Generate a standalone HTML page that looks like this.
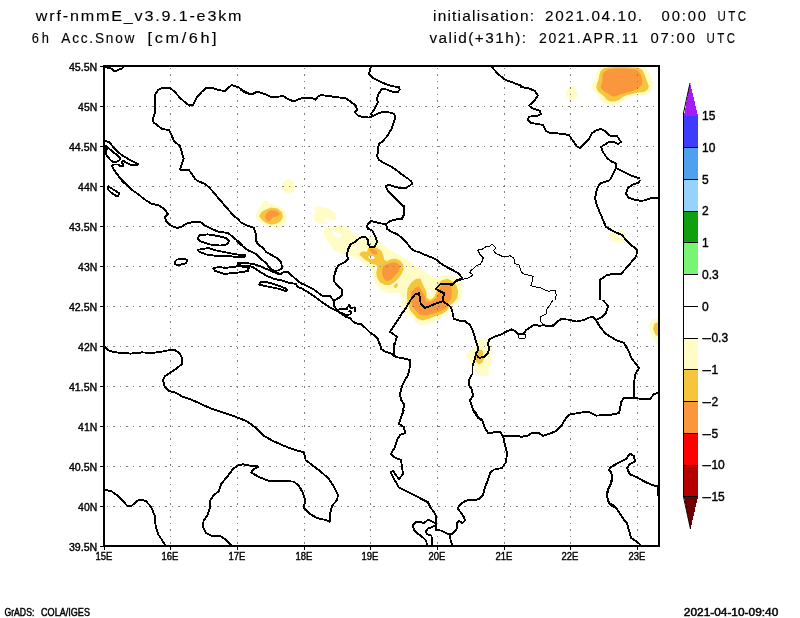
<!DOCTYPE html>
<html><head><meta charset="utf-8"><title>wrf-nmmE 6h Acc.Snow</title>
<style>
html,body{margin:0;padding:0;background:#fff;}
svg{display:block}
text{font-family:"Liberation Sans",sans-serif;fill:#000}
.t{font-size:13.8px;stroke:#000;stroke-width:0.12}
.ax{font-size:11px;stroke:#000;stroke-width:0.4}
.cb{font-size:12px;stroke:#000;stroke-width:0.4}
.sm{font-size:10.3px;stroke:#000;stroke-width:0.45}
.b{fill:none;stroke:#000;stroke-width:1.9;stroke-linejoin:round;stroke-linecap:butt;shape-rendering:crispEdges}
.g{stroke:#808080;stroke-width:1;stroke-dasharray:2 4.5 1 5.5;stroke-dashoffset:5;fill:none;shape-rendering:crispEdges}
</style></head><body>
<svg width="800" height="618" viewBox="0 0 800 618">
<rect width="800" height="618" fill="#fff"/>

<text class="t" transform="translate(35.8,21.2) scale(1.170,1)" textLength="175.8" lengthAdjust="spacing">wrf-nmmE_v3.9.1-e3km</text>
<text class="t" transform="translate(31.8,42.5) scale(0.934,1)" textLength="18.4" lengthAdjust="spacing">6h</text>
<text class="t" transform="translate(61.3,42.5) scale(0.994,1)" textLength="73.6" lengthAdjust="spacing">Acc.Snow</text>
<text class="t" transform="translate(147.6,42.5) scale(1.180,1)" textLength="58.5" lengthAdjust="spacing">[cm/6h]</text>
<text class="t" transform="translate(433,21.2) scale(1.120,1)" textLength="90.2" lengthAdjust="spacing">initialisation:</text>
<text class="t" transform="translate(545,21.2) scale(1.109,1)" textLength="87.5" lengthAdjust="spacing">2021.04.10.</text>
<text class="t" transform="translate(661.6,21.2) scale(1.072,1)" textLength="41.4" lengthAdjust="spacing">00:00</text>
<text class="t" transform="translate(717.6,21.2) scale(0.834,1)" textLength="34.0" lengthAdjust="spacing">UTC</text>
<text class="t" transform="translate(429.4,42.5) scale(1.111,1)" textLength="87.0" lengthAdjust="spacing">valid(+31h):</text>
<text class="t" transform="translate(539,42.5) scale(1.018,1)" textLength="97.3" lengthAdjust="spacing">2021.APR.11</text>
<text class="t" transform="translate(650.4,42.5) scale(1.076,1)" textLength="41.4" lengthAdjust="spacing">07:00</text>
<text class="t" transform="translate(706.6,42.5) scale(0.834,1)" textLength="34.0" lengthAdjust="spacing">UTC</text>
<g id="map" clip-path="url(#clip)">
<path d="M600.2,67.0 L596.9,71.2 L595.8,76.9 L593.5,81.4 L591.2,85.3 L592.4,89.2 L595.2,92.6 L598.0,94.9 L599.7,98.8 L602.5,102.2 L607.0,104.4 L612.6,105.0 L618.2,103.9 L622.8,100.5 L627.2,97.7 L632.9,96.0 L638.5,95.4 L645.2,95.1 L649.8,93.2 L652.6,88.1 L653.1,82.5 L651.4,76.9 L648.6,71.2 L645.2,67.0Z" fill="#fffcc6"/>
<path d="M604.2,67.9 L600.8,70.7 L599.4,74.6 L598.6,79.7 L596.9,83.6 L596.3,88.1 L598.0,91.5 L600.8,93.8 L604.2,96.6 L607.0,99.9 L610.4,101.6 L614.9,101.6 L618.8,99.9 L622.8,97.1 L627.2,94.9 L632.9,93.8 L638.5,92.6 L644.1,92.1 L647.5,89.8 L648.9,86.4 L647.5,82.5 L645.8,78.0 L644.1,73.5 L642.4,70.1 L638.5,67.7 L625.0,67.0 L613.8,67.0Z" fill="#f5c63c"/>
<path d="M608.7,69.2 L604.8,71.2 L602.5,75.2 L602.5,80.2 L601.4,84.2 L600.8,88.1 L604.2,91.5 L608.1,93.8 L612.6,96.6 L616.0,96.2 L620.5,94.3 L625.0,93.2 L629.5,92.1 L634.0,90.4 L638.5,88.1 L641.9,84.8 L642.4,80.8 L641.3,75.8 L639.1,71.8 L635.1,69.2 L627.2,68.4 L617.1,68.4Z" fill="#fa963c"/>
<path d="M572.0,85.0 L576.0,89.0 L578.0,94.0 L576.0,99.0 L571.0,101.0 L567.0,98.0 L566.0,93.0 L568.0,88.0Z" fill="#fffcc6"/>
<path d="M609.0,235.6 L612.4,231.6 L619.0,229.2 L624.4,231.2 L626.6,237.0 L624.4,241.4 L618.0,243.0 L611.6,240.6Z" fill="#fffcc6"/>
<path d="M660.0,317.0 L652.0,319.0 L648.0,326.0 L651.0,335.0 L656.0,343.0 L660.0,345.0Z" fill="#fffcc6"/>
<path d="M660.0,322.0 L654.4,323.6 L653.0,329.0 L655.6,335.0 L660.0,337.0Z" fill="#f5c63c"/>
<path d="M282.5,183.1 L285.6,179.8 L289.4,179.0 L293.1,181.2 L295.0,185.6 L294.4,190.6 L291.2,193.5 L287.5,193.8 L283.8,191.2 L281.9,187.5Z" fill="#fffcc6"/>
<path d="M265.6,200.0 L269.4,203.8 L276.2,205.6 L281.9,207.5 L285.6,211.9 L286.9,217.5 L285.6,223.1 L282.5,226.9 L278.8,228.8 L273.8,226.9 L267.5,225.6 L261.9,223.1 L257.5,220.0 L255.2,216.2 L256.9,211.2 L260.0,206.9 L262.5,203.1Z" fill="#fffcc6"/>
<path d="M271.2,207.5 L277.5,208.5 L281.9,211.9 L283.1,216.9 L280.6,221.2 L276.2,223.8 L271.2,224.8 L266.2,223.1 L261.9,220.0 L259.0,216.2 L261.2,212.5 L265.6,209.4Z" fill="#f5c63c"/>
<path d="M271.2,210.2 L276.2,211.0 L280.0,213.8 L277.5,216.2 L273.1,217.2 L270.6,219.4 L270.0,221.5 L266.9,220.6 L265.0,217.5 L266.2,213.8 L268.8,211.2Z" fill="#fa963c"/>
<path d="M313.1,207.5 L317.5,206.2 L323.8,206.9 L330.0,209.4 L335.0,213.1 L336.9,216.9 L335.6,220.0 L330.0,220.6 L327.5,223.1 L323.1,224.4 L317.5,223.1 L313.8,220.0 L313.1,216.2 L315.0,213.1 L316.2,210.6Z" fill="#fffcc6"/>
<path d="M323.8,219.4 L326.2,217.2 L329.4,218.1 L329.8,220.0 L326.9,221.9 L324.4,221.5Z" fill="#ffffff"/>
<path d="M323.1,231.2 L327.5,226.9 L336.2,225.0 L345.0,226.2 L350.6,230.0 L353.8,234.4 L357.5,236.2 L362.5,236.2 L370.0,237.5 L375.0,237.5 L378.8,241.2 L385.0,246.2 L392.5,251.2 L401.2,256.2 L410.0,261.2 L417.5,267.5 L425.0,271.9 L432.5,276.2 L437.5,277.5 L442.5,275.6 L450.0,275.6 L457.5,277.5 L461.2,283.8 L462.5,290.0 L461.2,297.5 L457.5,302.5 L452.5,305.0 L450.0,310.0 L445.0,315.0 L437.5,320.0 L431.2,323.1 L422.5,325.0 L416.2,323.1 L412.5,317.5 L406.2,313.8 L403.0,310.0 L402.0,305.0 L402.5,297.5 L398.8,292.5 L392.5,293.1 L386.2,292.5 L380.0,290.0 L376.2,285.0 L373.8,280.0 L373.1,273.8 L371.2,267.5 L366.2,264.4 L360.0,260.6 L353.8,256.9 L347.5,254.4 L340.0,253.1 L337.5,252.5 L332.5,248.8 L329.4,243.8 L325.0,237.5Z" fill="#fffcc6"/>
<path d="M331.9,230.6 L334.4,230.0 L336.2,232.5 L340.6,233.8 L341.9,235.6 L338.8,237.5 L336.2,236.9 L333.1,233.8Z" fill="#ffffff"/>
<path d="M351.2,247.2 L353.8,246.2 L356.9,247.2 L356.2,248.8 L353.1,249.0Z" fill="#ffffff"/>
<path d="M360.6,252.5 L363.1,251.2 L366.9,251.9 L368.1,248.1 L371.2,246.2 L376.2,247.5 L381.2,250.6 L383.1,255.0 L384.4,260.0 L386.9,261.2 L390.0,259.4 L395.0,258.5 L400.0,260.6 L403.1,264.4 L403.8,268.8 L401.9,273.8 L398.8,278.1 L395.0,281.9 L390.0,285.0 L385.0,285.0 L380.0,282.5 L376.9,277.5 L376.2,272.5 L377.5,267.5 L376.2,265.0 L371.2,263.5 L366.2,260.6 L361.9,256.9 L359.4,254.4Z" fill="#f5c63c"/>
<path d="M370.0,249.4 L373.1,248.8 L376.9,251.2 L377.5,253.8 L374.4,254.4 L371.2,252.5Z" fill="#fa963c"/>
<path d="M383.1,266.2 L387.5,263.8 L393.8,262.2 L398.1,263.5 L400.0,266.9 L398.8,271.2 L395.0,275.6 L391.2,279.4 L386.9,281.2 L383.8,278.8 L382.2,274.4 L382.2,270.0Z" fill="#fa963c"/>
<path d="M368.1,256.5 L372.5,256.0 L375.0,257.2 L373.8,259.0 L369.4,258.8Z" fill="#ffffff"/>
<path d="M393.8,285.6 L396.9,283.1 L398.1,285.0 L396.2,288.1 L393.8,287.5Z" fill="#f5c63c"/>
<path d="M407.5,288.8 L411.2,282.5 L416.2,278.8 L420.6,278.8 L422.5,283.8 L426.2,291.2 L426.9,297.5 L430.0,300.0 L433.8,297.5 L436.2,292.5 L437.5,285.0 L441.2,280.6 L447.5,278.8 L452.5,281.2 L456.2,285.0 L458.1,291.2 L457.5,297.5 L453.8,302.5 L450.0,305.6 L447.5,310.0 L442.5,313.8 L435.0,316.2 L428.8,318.8 L422.5,320.6 L417.5,318.8 L413.8,314.4 L410.0,310.0 L407.5,302.5 L406.9,295.0Z" fill="#f5c63c"/>
<path d="M411.2,292.5 L415.0,288.1 L418.8,286.2 L421.2,290.0 L425.0,296.2 L426.2,301.2 L430.6,301.9 L436.2,298.1 L438.8,292.5 L440.0,286.9 L443.8,283.1 L448.8,283.1 L451.2,286.9 L451.9,292.5 L451.2,298.8 L448.1,303.1 L446.2,308.1 L440.0,311.2 L432.5,313.8 L425.0,315.6 L420.0,315.0 L416.2,311.2 L412.5,306.2 L410.6,298.8Z" fill="#fa963c"/>
<path d="M428.5,290.0 L431.0,290.6 L431.2,294.8 L429.0,294.0Z" fill="#ffffff"/>
<path d="M476.2,340.0 L486.2,340.0 L491.2,343.8 L491.9,351.2 L491.2,360.0 L490.0,366.2 L488.1,371.2 L489.4,374.4 L486.2,376.2 L480.0,375.6 L475.0,371.2 L472.5,365.0 L468.1,360.0 L466.2,356.2 L468.8,351.2 L473.8,348.1 L476.2,345.0Z" fill="#fffcc6"/>
<path d="M478.8,350.0 L481.9,349.4 L483.1,353.1 L483.8,359.4 L481.9,363.1 L478.8,364.4 L475.6,361.2 L475.6,356.2 L477.5,352.5Z" fill="#f5c63c"/>
<line class="g" x1="170.5" y1="66" x2="170.5" y2="546"/>
<line class="g" x1="237.5" y1="66" x2="237.5" y2="546"/>
<line class="g" x1="304.5" y1="66" x2="304.5" y2="546"/>
<line class="g" x1="370.5" y1="66" x2="370.5" y2="546"/>
<line class="g" x1="437.5" y1="66" x2="437.5" y2="546"/>
<line class="g" x1="504.5" y1="66" x2="504.5" y2="546"/>
<line class="g" x1="570.5" y1="66" x2="570.5" y2="546"/>
<line class="g" x1="637.5" y1="66" x2="637.5" y2="546"/>
<line class="g" x1="105" y1="106.5" x2="659" y2="106.5"/>
<line class="g" x1="105" y1="146.5" x2="659" y2="146.5"/>
<line class="g" x1="105" y1="186.5" x2="659" y2="186.5"/>
<line class="g" x1="105" y1="226.5" x2="659" y2="226.5"/>
<line class="g" x1="105" y1="266.5" x2="659" y2="266.5"/>
<line class="g" x1="105" y1="306.5" x2="659" y2="306.5"/>
<line class="g" x1="105" y1="346.5" x2="659" y2="346.5"/>
<line class="g" x1="105" y1="386.5" x2="659" y2="386.5"/>
<line class="g" x1="105" y1="426.5" x2="659" y2="426.5"/>
<line class="g" x1="105" y1="466.5" x2="659" y2="466.5"/>
<line class="g" x1="105" y1="506.5" x2="659" y2="506.5"/>
<path class="b" d="M196.0,180.0 L189.0,170.0 L180.0,169.6 L183.6,158.4 L180.0,146.0 L174.4,141.6 L169.0,130.0 L162.0,129.0 L153.6,122.4 L153.0,119.0 L155.0,113.0 L155.0,95.0 L158.0,90.0 L162.4,88.0 L170.0,88.0 L175.0,92.0 L180.0,98.0 L186.0,103.0 L189.6,105.6 L193.0,105.0 L197.0,97.0 L202.0,91.6 L206.0,88.0 L212.0,88.0 L218.0,90.0 L225.0,91.0 L228.0,88.0 L231.6,85.0 L238.0,87.0 L244.0,91.0 L249.0,93.6 L254.0,93.6 L257.0,92.0 L260.0,92.4 M105.0,67.0 L111.0,68.4 L115.0,71.6 L119.0,69.6 L122.4,68.4 L123.6,66.4 M104.5,140.5 L109.5,142.5 L115.0,149.0 L121.0,154.5 L129.0,159.5 L138.5,164.5 L131.0,165.0 L123.5,161.0 L121.5,161.5 L123.0,164.5 L123.0,166.0 L119.5,165.8 L118.5,164.5 L114.0,164.5 L112.0,165.5 L114.0,170.0 L120.0,178.0 L132.0,190.0 M104.5,145.0 L109.5,149.0 L115.0,153.5 L120.5,158.0 L119.5,160.0 L116.5,162.0 L113.5,162.5 L110.0,159.5 L106.0,154.5 L105.5,151.5 L107.0,148.5 L104.5,147.5 M240.0,89.0 L244.0,92.0 L249.0,94.0 L253.0,93.6 L257.0,91.6 L261.0,93.0 L265.0,94.0 L270.0,96.6 L276.0,97.0 L283.0,96.0 L288.0,99.0 L294.0,101.6 L299.0,99.0 L304.0,97.6 L310.0,97.6 L315.6,99.6 L318.0,96.4 L321.0,95.0 L328.0,96.0 L336.0,97.0 L346.0,98.4 L351.0,102.0 L356.0,105.6 L357.0,109.6 L355.0,112.4 L358.0,115.6 L363.0,117.0 L369.0,117.6 L373.0,116.0 L378.0,113.6 L383.0,112.0 L389.0,112.4 L394.0,113.6 L395.6,117.0 L394.0,122.0 L392.0,128.0 L388.0,135.0 L383.0,141.0 L379.0,144.0 L378.0,148.0 L378.0,153.0 L377.0,156.0 L379.0,160.0 L384.0,163.0 L390.0,166.0 L395.0,169.0 L400.0,173.0 M371.0,66.0 L369.0,74.0 L373.0,78.0 L380.0,81.6 L388.0,85.0 L395.0,86.6 L399.0,86.8 L399.6,89.6 L398.0,92.0 L392.0,91.6 L387.0,89.6 L382.0,89.0 L379.0,93.0 L377.0,99.0 L378.0,102.0 L374.4,109.0 L371.0,114.0 L373.0,116.0 M400.0,173.0 L404.0,176.0 L410.0,180.0 M491.0,66.0 L498.0,74.0 L505.0,79.6 L514.0,83.0 L522.0,86.0 M520.0,87.0 L528.0,88.0 L535.0,91.0 L538.0,95.6 L534.0,101.0 L529.0,105.6 L533.0,108.6 L540.0,111.0 L541.0,114.0 L537.0,116.0 L529.0,116.6 L528.0,120.0 L531.0,123.0 L538.0,124.0 L543.0,125.0 L546.0,131.0 L550.0,133.0 L560.0,133.6 L569.0,135.0 L573.0,141.0 L577.0,146.4 L580.0,148.0 L584.0,144.0 L589.0,139.0 L592.0,133.0 L597.0,130.0 L601.0,129.0 L605.0,131.0 L610.0,135.6 L617.0,136.0 L619.0,139.0 L621.0,142.0 L618.0,144.0 L614.0,142.0 L608.0,142.4 L601.0,147.0 L603.0,152.0 L607.0,158.0 L612.0,162.0 L615.6,163.0 L616.0,168.0 L613.0,174.0 L610.0,180.0 M616.0,168.0 L624.0,172.0 L632.0,176.0 L640.0,178.4 M121.0,180.0 L132.0,190.0 L138.0,194.0 L144.0,199.0 L151.0,203.6 L159.0,205.6 L165.0,209.6 L168.0,214.4 L165.0,217.0 L166.0,221.0 L171.0,225.6 L177.0,228.0 L182.0,226.4 L188.0,223.0 L194.0,222.0 L201.0,222.4 L204.0,225.0 L210.0,228.0 L218.0,231.6 L228.0,233.0 L233.0,237.0 L240.0,243.0 L242.4,245.0 M196.0,180.0 L204.0,183.6 L209.0,187.0 L214.0,193.0 L220.0,200.0 L226.0,207.0 L233.0,215.0 L240.0,221.0 M108.0,186.0 L114.0,190.0 L119.0,193.0 L118.4,195.6 L116.0,196.0 L111.0,192.4 L108.0,189.6 L108.0,186.0 M198.0,237.0 L200.0,235.0 L208.0,234.4 L218.0,236.0 L226.0,238.0 L229.0,241.0 L227.0,244.4 L220.0,245.6 L210.0,244.4 L202.0,242.0 L198.0,239.6 L198.0,237.0 M197.0,250.0 L202.0,249.0 L209.0,248.0 L216.0,250.4 L226.0,252.4 L236.0,254.4 L245.0,255.0 L244.4,257.0 L234.0,256.6 L224.0,256.0 L214.0,255.6 L206.0,254.4 L200.0,252.0 L197.0,250.0 M174.4,262.0 L177.0,259.6 L183.0,258.6 L187.0,260.0 L186.4,263.0 L182.0,264.4 L177.0,265.0 L175.0,264.0 L174.4,262.0 M213.0,268.0 L220.0,267.0 L225.0,268.0 L232.0,267.0 L240.0,266.0 L249.0,268.0 L248.0,271.0 L240.0,272.4 L232.0,273.0 L225.0,274.0 L220.0,272.4 L215.0,271.0 L213.0,268.0 M240.0,222.0 L247.0,225.6 L254.0,228.0 L255.6,233.0 L256.0,240.0 M236.2,240.0 L241.2,245.0 L247.5,250.0 L255.6,253.8 L260.6,258.8 L266.2,263.1 L268.8,266.9 L271.9,270.0 L275.6,271.0 L279.4,270.0 L281.9,268.1 L281.2,261.9 L278.1,258.8 L272.5,255.6 L266.2,251.9 L262.5,247.5 L258.1,244.4 L255.6,240.0 M275.6,271.0 L277.5,273.1 L280.6,274.4 L283.8,271.9 L288.1,271.9 L292.5,276.2 L297.5,280.6 L302.5,284.4 M238.1,265.0 L238.1,262.5 L245.0,263.1 L252.5,263.8 L260.0,266.2 L267.5,269.4 L273.8,272.2 L278.1,273.8 M238.1,265.0 L245.0,266.2 L250.0,266.2 L252.5,266.9 L260.0,271.9 L267.5,276.2 L273.8,278.8 L282.5,280.6 L290.0,283.1 L296.2,283.8 L296.9,286.0 L300.0,288.1 M258.8,283.8 L261.2,281.9 L266.2,281.9 L272.5,283.8 L280.0,286.2 L285.0,288.1 L287.5,290.0 L286.2,291.2 L280.0,289.0 L272.5,287.5 L265.0,286.0 L260.0,284.8 L258.8,283.8 M300.0,282.5 L306.2,285.6 L313.8,289.4 L321.9,295.6 L330.0,296.2 L333.8,300.6 M336.2,270.0 L334.4,275.0 L334.4,281.9 L338.1,286.2 L341.9,289.4 L342.5,293.8 L340.6,296.9 L336.9,298.8 L333.8,300.6 L334.4,306.2 L336.9,310.0 L338.8,311.2 M300.0,287.5 L307.5,291.9 L315.0,296.9 L322.5,302.5 L330.0,307.5 L336.2,310.6 L338.8,311.9 L342.5,314.4 L346.2,316.9 L350.0,318.1 L352.5,321.2 L355.6,323.1 L361.2,324.4 L365.0,327.5 L369.4,331.9 L373.8,335.0 L378.1,339.4 L380.0,345.0 M400.0,316.9 L396.2,322.5 L392.5,328.1 L390.0,331.9 L393.8,334.4 L396.9,336.9 L395.6,341.2 L394.4,345.0 M335.0,275.0 L335.6,270.0 L338.8,265.0 L345.0,261.9 L348.1,259.4 L346.9,255.0 L348.1,249.4 L350.6,244.4 L355.0,241.9 L358.8,238.8 L362.5,236.9 L366.2,237.5 L368.1,240.6 L368.1,243.8 L370.0,246.9 L373.8,247.2 L376.2,244.4 L376.9,240.6 L375.0,236.2 L372.5,230.6 L368.1,228.8 L366.9,226.2 L368.8,223.1 L371.2,221.0 L376.2,222.2 L381.2,223.5 L386.2,224.0 L390.0,221.2 L396.2,219.4 L401.9,218.8 L403.8,215.0 L404.0,207.5 L403.5,205.0 M386.2,224.0 L386.9,228.8 L391.9,231.9 L397.5,234.4 L403.1,238.8 L407.5,243.8 L410.6,248.1 L415.0,251.2 L420.0,252.2 M411.0,180.0 L412.0,184.0 L406.0,188.0 L398.0,187.6 L389.0,185.0 L385.6,186.0 L388.0,191.0 L395.0,198.0 L400.0,203.0 L403.6,206.4 M420.0,252.8 L424.0,254.4 L433.0,258.0 L437.0,260.0 M436.9,260.0 L441.2,263.8 L447.5,267.5 L453.8,270.6 L458.8,273.8 L461.9,277.5 L461.2,279.4 M461.2,279.4 L456.2,281.2 L452.5,285.0 L446.2,283.8 L440.0,284.4 L435.6,288.8 L438.8,290.6 L444.4,293.5 L443.1,297.5 L442.5,301.2 M442.5,301.2 L433.8,304.4 L425.0,308.1 L420.6,303.8 L420.0,297.5 L418.8,293.1 L415.0,294.4 L410.6,300.0 L406.2,307.5 L400.0,316.2 M442.5,301.2 L447.5,304.4 L451.2,307.5 L452.5,312.5 L453.8,318.8 L458.8,320.6 L465.0,321.2 L470.0,325.0 L472.5,330.0 L474.4,335.0 L475.0,340.0 M610.0,180.0 L600.0,183.6 L597.0,189.0 L595.0,198.0 L597.0,206.0 L601.0,215.0 L606.0,227.0 L614.0,231.6 L622.0,235.0 L626.0,240.0 L631.0,245.0 L637.0,249.6 L636.4,256.0 L629.0,265.0 L621.0,274.0 L612.0,274.0 L606.0,275.6 L600.0,280.0 L600.0,290.0 L600.4,300.0 M640.0,180.0 L639.0,182.4 L632.0,185.0 L628.0,188.0 L626.0,194.0 L629.0,198.0 L636.0,200.0 L642.0,201.0 L650.0,198.4 L660.0,197.6 M104.4,346.4 L108.0,350.0 L113.0,352.0 L122.0,353.0 L131.0,353.6 L142.0,352.4 L152.0,353.0 L162.0,351.6 L170.0,350.0 L175.0,350.0 L180.0,353.6 L182.4,359.0 L182.4,363.6 L177.0,368.0 L170.0,373.0 L165.0,376.0 L163.0,380.0 L164.4,386.0 L169.0,391.0 L175.0,392.4 L182.0,396.4 L190.0,399.0 L200.0,403.6 L212.0,409.0 L224.0,413.0 L236.0,417.0 L243.0,419.6 M380.0,343.0 L381.0,349.0 L386.0,352.0 L392.0,354.0 L395.0,357.0 M394.0,343.0 L393.6,350.0 L395.0,357.0 M393.6,343.0 L394.4,357.0 M395.0,357.0 L402.0,358.0 L410.0,360.0 L409.6,368.0 L408.0,375.0 L405.0,380.0 L402.0,386.0 L400.0,394.0 L401.0,400.0 L404.0,404.0 L403.0,412.0 L400.0,420.0 M474.4,335.0 L475.6,340.0 L477.5,346.2 L478.1,350.0 L476.2,353.1 L474.4,360.0 L472.5,366.2 L472.5,373.8 M474.0,412.0 L470.0,400.0 L473.0,396.0 L472.0,390.0 L469.0,385.0 L469.0,380.0 L472.0,374.0 M474.0,412.0 L478.0,418.0 L481.0,420.0 M476.9,356.2 L479.4,357.8 L483.8,356.9 L488.1,353.1 L489.0,348.8 L488.1,343.8 L489.4,339.4 L493.8,336.9 L500.0,335.0 L505.6,331.9 L511.2,329.4 L514.4,330.6 L518.1,333.8 L523.8,333.8 L526.2,330.0 L530.0,327.5 L535.0,324.4 L540.0,326.0 L543.1,325.0 L547.5,326.2 L552.5,326.5 L556.2,323.1 L560.0,319.4 M550.0,326.4 L555.0,324.0 L561.0,319.0 L568.0,319.6 L576.0,321.6 L584.0,320.0 L589.0,317.6 L593.0,317.0 L596.0,320.0 M603.0,300.0 L608.0,306.0 L606.0,313.0 L602.0,317.0 L596.0,320.0 L600.0,327.0 L606.0,334.0 L616.0,340.0 L624.0,343.0 L628.0,350.0 L632.0,359.0 L636.0,364.0 L639.0,368.0 L635.0,375.0 L634.0,384.0 L634.4,398.0 M634.4,398.0 L642.0,399.0 L650.0,399.0 L654.0,394.0 L660.0,392.4 M634.4,398.0 L624.0,398.0 L621.0,402.0 L620.0,410.0 M104.4,489.6 L112.0,491.6 L118.0,496.0 L123.0,501.0 L127.0,505.6 L132.0,505.6 L137.0,501.0 L141.0,499.6 L146.0,501.0 L151.0,507.0 L155.0,516.0 L155.6,526.0 L158.0,534.0 L162.0,540.0 L165.6,546.0 M232.0,546.0 L226.0,540.0 L220.0,535.6 L211.0,535.6 L206.0,533.0 L203.0,527.0 L203.6,521.0 L208.0,514.0 L210.0,507.0 L210.4,500.0 L214.0,495.0 L219.0,491.0 L221.0,484.0 L227.0,477.0 L233.0,469.0 L238.0,465.6 L243.0,464.4 L250.0,465.6 L258.0,466.4 L254.0,469.0 L251.0,472.4 M240.0,418.4 L248.0,422.0 L256.0,428.0 L264.0,436.0 L272.0,440.4 L282.0,445.0 L292.0,449.0 L304.0,452.4 L305.6,460.0 L312.0,465.0 L320.0,471.0 L328.0,478.0 L333.0,485.0 L338.0,495.0 L337.0,500.0 L332.0,506.0 L330.0,514.0 L329.6,521.6 L324.0,519.6 L317.0,518.0 L310.0,514.0 L304.0,508.0 L305.0,500.0 L303.0,493.0 L299.0,486.0 L294.0,481.6 L282.0,481.0 L269.0,481.0 L259.0,477.0 L251.0,472.4 L254.0,469.0 L258.4,467.0 L250.0,465.6 L242.0,464.0 M404.0,410.0 L401.0,417.0 L399.0,424.0 L404.0,427.0 L405.0,433.0 L400.0,435.0 L397.0,440.0 L395.0,447.0 L391.0,454.0 L395.0,457.6 L401.0,460.0 L402.0,467.0 L403.0,474.0 L399.0,479.0 L395.0,474.0 L393.6,471.0 L390.4,472.0 L394.0,479.0 L399.0,487.6 L408.0,492.0 L418.0,497.0 L428.0,502.0 L431.0,508.0 M474.0,410.0 L478.0,417.0 L482.0,420.0 L485.0,428.0 L488.0,433.0 L494.0,432.4 L500.0,432.0 L503.0,436.0 M503.0,436.0 L512.0,436.0 L520.0,436.4 M503.0,436.0 L505.0,445.0 L507.0,453.0 L506.0,462.0 L502.0,468.0 L494.0,469.6 L490.0,473.0 L488.0,480.0 L485.0,487.0 L483.0,495.0 L479.0,499.0 M620.0,410.0 L619.0,413.0 L610.0,415.0 L596.0,415.6 L589.0,412.0 L582.0,412.4 L570.0,414.4 L566.0,418.0 L562.0,425.0 L556.0,431.0 L549.0,434.0 L543.0,436.0 L539.0,433.0 L532.0,433.0 L528.0,435.6 L520.0,437.0 M658.0,487.0 L650.0,484.0 L640.0,479.0 L630.0,474.0 L627.0,468.0 L630.0,464.0 L635.0,461.6 L634.0,456.0 L630.0,453.6 L626.0,459.0 L618.0,463.0 L611.0,467.0 L609.0,469.6 L612.0,475.0 L611.0,484.0 L608.0,490.0 L607.0,496.0 L609.0,503.0 L616.0,507.0 M403.8,490.0 L412.5,494.4 L421.2,498.8 L428.1,502.5 L430.0,506.9 L433.8,511.9 L436.0,516.2 L435.6,522.5 L436.0,530.0 L441.2,530.6 L445.0,532.5 L449.4,534.4 L450.6,540.0 L452.5,546.2 M435.0,523.1 L431.2,521.2 L428.1,519.8 L423.8,523.1 L420.0,521.9 L415.6,521.9 L412.8,525.6 L414.4,530.6 L418.8,534.4 L423.1,537.5 L426.2,540.6 L427.2,546.2 M435.0,525.6 L431.2,527.5 L427.5,528.8 L425.6,531.9 L427.5,534.4 L431.5,535.6 L431.9,546.2 M480.0,499.0 L473.8,500.0 L468.1,499.8 L463.8,501.9 L458.8,505.6 L458.1,508.8 L461.2,513.1 L463.8,516.9 L465.0,520.6 L462.5,523.1 L458.8,521.0 L456.9,523.1 L457.5,527.5 L455.0,531.2 L451.9,534.0 L449.4,534.4 M610.0,470.0 L611.9,475.0 L611.9,480.6 L609.4,486.2 L607.5,491.2 L606.9,495.0 L608.1,501.2 L610.6,505.0 L616.2,508.1 L620.0,513.8 L623.8,519.4 L626.9,523.1 L628.8,530.0 L631.2,538.1 L636.2,541.2 L640.6,545.0 L642.5,547.5 M627.5,470.0 L630.0,474.4 L637.5,477.5 L645.0,481.9 L652.5,485.0 L658.1,486.5 L658.1,496.2 M337.5,310.0 L340.0,309.1 L347.0,308.9 L347.5,307.0 L349.5,304.8 L350.2,307.0 L350.5,308.1 L353.0,307.4 L355.0,307.8 L355.0,312.2 M341.5,312.2 L343.5,314.2 L346.5,314.8 L350.0,314.5 L351.2,313.2 L350.8,311.2 L348.5,310.9 M461.6,278.5 L456.9,280.2 L453.1,284.0 L450.0,283.8"/><path class="b" style="stroke-width:1" d="M461.2,279.4 L466.2,278.8 L470.0,276.9 L473.1,275.0 L470.0,272.5 L470.6,270.6 L473.1,268.8 L476.2,265.6 L480.0,264.4 L482.8,260.6 L483.1,257.5 L480.0,254.4 L477.8,250.0 L481.9,249.4 L485.6,246.9 L490.0,246.2 L491.9,244.4 L494.4,246.2 L496.2,248.1 L493.8,250.0 L494.4,252.5 L498.1,254.4 L501.9,256.2 L506.2,256.9 L510.0,255.6 L513.8,258.1 L515.0,263.8 L519.4,265.0 L520.6,270.6 L523.1,273.8 L527.5,274.8 L533.1,276.2 L532.5,281.2 L530.6,285.6 L535.0,286.9 L540.0,287.5 L543.8,289.4 L548.1,291.2 L550.0,291.9 M550.0,291.0 L555.0,290.0 L556.4,295.0 L555.0,300.0 M553.0,300.0 L550.0,305.0 L546.0,310.0 L546.0,314.0 L540.0,317.0 L540.0,321.0 L543.6,324.4 M518.5,334.0 L525.0,334.0 L525.2,338.1 L521.2,339.0 L518.8,337.8 L518.5,334.0"/>
</g>
<defs><clipPath id="clip"><rect x="104" y="66" width="555" height="480"/></clipPath></defs>
<rect x="104" y="66" width="555" height="480" fill="none" stroke="#000" stroke-width="2" shape-rendering="crispEdges"/>
<line x1="100" y1="66.5" x2="104" y2="66.5" stroke="#000" stroke-width="1" shape-rendering="crispEdges"/>
<text class="ax" x="68.9" y="70.6" textLength="28.3" lengthAdjust="spacingAndGlyphs">45.5N</text>
<line x1="100" y1="106.5" x2="104" y2="106.5" stroke="#000" stroke-width="1" shape-rendering="crispEdges"/>
<text class="ax" x="78.1" y="110.6" textLength="19.1" lengthAdjust="spacingAndGlyphs">45N</text>
<line x1="100" y1="146.5" x2="104" y2="146.5" stroke="#000" stroke-width="1" shape-rendering="crispEdges"/>
<text class="ax" x="68.9" y="150.6" textLength="28.3" lengthAdjust="spacingAndGlyphs">44.5N</text>
<line x1="100" y1="186.5" x2="104" y2="186.5" stroke="#000" stroke-width="1" shape-rendering="crispEdges"/>
<text class="ax" x="78.1" y="190.6" textLength="19.1" lengthAdjust="spacingAndGlyphs">44N</text>
<line x1="100" y1="226.5" x2="104" y2="226.5" stroke="#000" stroke-width="1" shape-rendering="crispEdges"/>
<text class="ax" x="68.9" y="230.6" textLength="28.3" lengthAdjust="spacingAndGlyphs">43.5N</text>
<line x1="100" y1="266.5" x2="104" y2="266.5" stroke="#000" stroke-width="1" shape-rendering="crispEdges"/>
<text class="ax" x="78.1" y="270.6" textLength="19.1" lengthAdjust="spacingAndGlyphs">43N</text>
<line x1="100" y1="306.5" x2="104" y2="306.5" stroke="#000" stroke-width="1" shape-rendering="crispEdges"/>
<text class="ax" x="68.9" y="310.6" textLength="28.3" lengthAdjust="spacingAndGlyphs">42.5N</text>
<line x1="100" y1="346.5" x2="104" y2="346.5" stroke="#000" stroke-width="1" shape-rendering="crispEdges"/>
<text class="ax" x="78.1" y="350.6" textLength="19.1" lengthAdjust="spacingAndGlyphs">42N</text>
<line x1="100" y1="386.5" x2="104" y2="386.5" stroke="#000" stroke-width="1" shape-rendering="crispEdges"/>
<text class="ax" x="68.9" y="390.6" textLength="28.3" lengthAdjust="spacingAndGlyphs">41.5N</text>
<line x1="100" y1="426.5" x2="104" y2="426.5" stroke="#000" stroke-width="1" shape-rendering="crispEdges"/>
<text class="ax" x="78.1" y="430.6" textLength="19.1" lengthAdjust="spacingAndGlyphs">41N</text>
<line x1="100" y1="466.5" x2="104" y2="466.5" stroke="#000" stroke-width="1" shape-rendering="crispEdges"/>
<text class="ax" x="68.9" y="470.6" textLength="28.3" lengthAdjust="spacingAndGlyphs">40.5N</text>
<line x1="100" y1="506.5" x2="104" y2="506.5" stroke="#000" stroke-width="1" shape-rendering="crispEdges"/>
<text class="ax" x="78.1" y="510.6" textLength="19.1" lengthAdjust="spacingAndGlyphs">40N</text>
<line x1="100" y1="546.5" x2="104" y2="546.5" stroke="#000" stroke-width="1" shape-rendering="crispEdges"/>
<text class="ax" x="68.9" y="550.6" textLength="28.3" lengthAdjust="spacingAndGlyphs">39.5N</text>
<line x1="104.5" y1="546" x2="104.5" y2="550" stroke="#000" stroke-width="1" shape-rendering="crispEdges"/>
<text class="ax" x="95.5" y="559.8" textLength="16.9" lengthAdjust="spacingAndGlyphs">15E</text>
<line x1="170.5" y1="546" x2="170.5" y2="550" stroke="#000" stroke-width="1" shape-rendering="crispEdges"/>
<text class="ax" x="161.5" y="559.8" textLength="16.9" lengthAdjust="spacingAndGlyphs">16E</text>
<line x1="237.5" y1="546" x2="237.5" y2="550" stroke="#000" stroke-width="1" shape-rendering="crispEdges"/>
<text class="ax" x="228.5" y="559.8" textLength="16.9" lengthAdjust="spacingAndGlyphs">17E</text>
<line x1="304.5" y1="546" x2="304.5" y2="550" stroke="#000" stroke-width="1" shape-rendering="crispEdges"/>
<text class="ax" x="295.5" y="559.8" textLength="16.9" lengthAdjust="spacingAndGlyphs">18E</text>
<line x1="370.5" y1="546" x2="370.5" y2="550" stroke="#000" stroke-width="1" shape-rendering="crispEdges"/>
<text class="ax" x="361.5" y="559.8" textLength="16.9" lengthAdjust="spacingAndGlyphs">19E</text>
<line x1="437.5" y1="546" x2="437.5" y2="550" stroke="#000" stroke-width="1" shape-rendering="crispEdges"/>
<text class="ax" x="428.5" y="559.8" textLength="16.9" lengthAdjust="spacingAndGlyphs">20E</text>
<line x1="504.5" y1="546" x2="504.5" y2="550" stroke="#000" stroke-width="1" shape-rendering="crispEdges"/>
<text class="ax" x="495.5" y="559.8" textLength="16.9" lengthAdjust="spacingAndGlyphs">21E</text>
<line x1="570.5" y1="546" x2="570.5" y2="550" stroke="#000" stroke-width="1" shape-rendering="crispEdges"/>
<text class="ax" x="561.5" y="559.8" textLength="16.9" lengthAdjust="spacingAndGlyphs">22E</text>
<line x1="637.5" y1="546" x2="637.5" y2="550" stroke="#000" stroke-width="1" shape-rendering="crispEdges"/>
<text class="ax" x="628.5" y="559.8" textLength="16.9" lengthAdjust="spacingAndGlyphs">23E</text>
<polygon points="684,115.75 690,83 698,115.75" fill="#a61af5" shape-rendering="crispEdges"/>
<polygon points="684,496.75 690.5,529 698,496.75" fill="#6e0000" shape-rendering="crispEdges"/>
<rect x="684" y="115.75" width="14" height="31.75" fill="#3c3cfa" shape-rendering="crispEdges"/>
<rect x="684" y="147.50" width="14" height="31.75" fill="#50a0f0" shape-rendering="crispEdges"/>
<rect x="684" y="179.25" width="14" height="31.75" fill="#96d2fa" shape-rendering="crispEdges"/>
<rect x="684" y="211.00" width="14" height="31.75" fill="#0fa00f" shape-rendering="crispEdges"/>
<rect x="684" y="242.75" width="14" height="31.75" fill="#78f573" shape-rendering="crispEdges"/>
<rect x="684" y="338.00" width="14" height="31.75" fill="#fffcc6" shape-rendering="crispEdges"/>
<rect x="684" y="369.75" width="14" height="31.75" fill="#f5c63c" shape-rendering="crispEdges"/>
<rect x="684" y="401.50" width="14" height="31.75" fill="#fa963c" shape-rendering="crispEdges"/>
<rect x="684" y="433.25" width="14" height="31.75" fill="#ff0000" shape-rendering="crispEdges"/>
<rect x="684" y="465.00" width="14" height="31.75" fill="#b40000" shape-rendering="crispEdges"/>
<path d="M690,83 L683.5,113 L683.5,496.8 L690.5,529" fill="none" stroke="#000" stroke-width="1"/>
<text class="cb" x="702" y="120.2">15</text>
<line x1="683" y1="147.5" x2="698" y2="147.5" stroke="#000" stroke-width="1" shape-rendering="crispEdges"/>
<text class="cb" x="702" y="151.9">10</text>
<line x1="683" y1="179.5" x2="698" y2="179.5" stroke="#000" stroke-width="1" shape-rendering="crispEdges"/>
<text class="cb" x="702" y="183.7">5</text>
<line x1="683" y1="211.5" x2="698" y2="211.5" stroke="#000" stroke-width="1" shape-rendering="crispEdges"/>
<text class="cb" x="702" y="215.4">2</text>
<line x1="683" y1="242.5" x2="698" y2="242.5" stroke="#000" stroke-width="1" shape-rendering="crispEdges"/>
<text class="cb" x="702" y="247.2">1</text>
<line x1="683" y1="274.5" x2="698" y2="274.5" stroke="#000" stroke-width="1" shape-rendering="crispEdges"/>
<text class="cb" x="702" y="278.9">0.3</text>
<line x1="683" y1="306.5" x2="698" y2="306.5" stroke="#000" stroke-width="1" shape-rendering="crispEdges"/>
<text class="cb" x="702" y="310.6">0</text>
<line x1="683" y1="338.5" x2="698" y2="338.5" stroke="#000" stroke-width="1" shape-rendering="crispEdges"/>
<text class="cb" transform="translate(702.2,342.4) scale(2.6,1)" x="-0.3">-</text><text class="cb" x="711.4" y="342.4">0.3</text>
<line x1="683" y1="369.5" x2="698" y2="369.5" stroke="#000" stroke-width="1" shape-rendering="crispEdges"/>
<text class="cb" transform="translate(702.2,374.1) scale(2.6,1)" x="-0.3">-</text><text class="cb" x="711.4" y="374.1">1</text>
<line x1="683" y1="401.5" x2="698" y2="401.5" stroke="#000" stroke-width="1" shape-rendering="crispEdges"/>
<text class="cb" transform="translate(702.2,405.9) scale(2.6,1)" x="-0.3">-</text><text class="cb" x="711.4" y="405.9">2</text>
<line x1="683" y1="433.5" x2="698" y2="433.5" stroke="#000" stroke-width="1" shape-rendering="crispEdges"/>
<text class="cb" transform="translate(702.2,437.6) scale(2.6,1)" x="-0.3">-</text><text class="cb" x="711.4" y="437.6">5</text>
<line x1="683" y1="465.5" x2="698" y2="465.5" stroke="#000" stroke-width="1" shape-rendering="crispEdges"/>
<text class="cb" transform="translate(702.2,469.4) scale(2.6,1)" x="-0.3">-</text><text class="cb" x="711.4" y="469.4">10</text>
<line x1="683" y1="496.5" x2="698" y2="496.5" stroke="#000" stroke-width="1" shape-rendering="crispEdges"/>
<text class="cb" transform="translate(702.2,501.1) scale(2.6,1)" x="-0.3">-</text><text class="cb" x="711.4" y="501.1">15</text>
<text class="sm" y="615.5"><tspan x="4.4" textLength="30" lengthAdjust="spacingAndGlyphs">GrADS:</tspan> <tspan x="41" textLength="49" lengthAdjust="spacingAndGlyphs">COLA/IGES</tspan></text>
<text class="sm" x="683.8" y="615.5" textLength="94.5" lengthAdjust="spacingAndGlyphs">2021-04-10-09:40</text>
</svg></body></html>
